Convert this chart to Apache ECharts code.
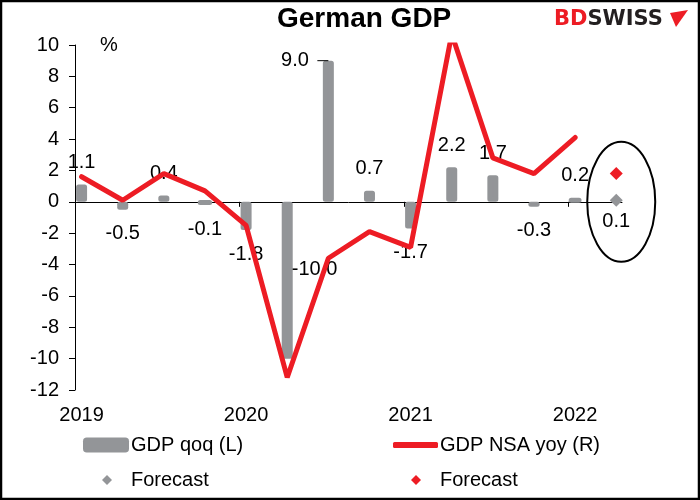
<!DOCTYPE html>
<html lang="en">
<head>
  <meta charset="UTF-8">
  <title>German GDP</title>
  <style>
    html, body { margin: 0; padding: 0; background: #fff; }
    #main { width: 700px; height: 500px; }
  </style>
</head>
<body>
  <div id="main"></div>
  <script src="https://cdn.jsdelivr.net/npm/echarts@6/dist/echarts.min.js"></script>
  <script>
    // quarters on the chart, Q1 2019 .. Q1 2022
    var quarters = ['2019Q1', '2019Q2', '2019Q3', '2019Q4',
                    '2020Q1', '2020Q2', '2020Q3', '2020Q4',
                    '2021Q1', '2021Q2', '2021Q3', '2021Q4',
                    '2022Q1'];
    // GDP qoq, % (left)
    var gdpQoq = [1.1, -0.5, 0.4, -0.1, -1.8, -10.0, 9.0, 0.7, -1.7, 2.2, 1.7, -0.3, 0.2];
    // GDP NSA yoy, % (right)
    var gdpNsaYoy = [1.6, 0.1, 1.8, 0.7, -1.5, -11.2, -3.6, -1.9, -2.9, 10.7, 2.8, 1.8, 4.1];
    // forecast
    var forecastQuarter = '2022Q2';
    var forecastQoq = 0.1;
    var forecastYoy = 1.8;
    var yearTicks = [2019, 2020, 2021, 2022];

    var FONT = 'Liberation Sans, Arial, sans-serif';
    var GREY = '#939598';
    var RED = '#ED1C24';

    // position of a quarter on the (yearly) value axis, point sits just after quarter start
    function quarterPos(q) {
      var year = +q.slice(0, 4);
      var n = +q.slice(5);
      return year + (n - 1) / 4 + 0.04;
    }

    var barData = gdpQoq.map(function (v, i) {
      return {
        value: [quarterPos(quarters[i]), v],
        label: { position: v >= 0 ? 'top' : 'bottom', distance: v >= 0 ? 12 : 14 }
      };
    });
    // labels that were moved by hand in the original
    barData[quarters.indexOf('2020Q3')].label = { position: [-14, 0], align: 'right', verticalAlign: 'middle' };
    barData[quarters.indexOf('2020Q2')].label = { position: ['100%', '43%'], align: 'left', verticalAlign: 'middle', offset: [-1, 0] };

    var lineData = gdpNsaYoy.map(function (v, i) {
      return [quarterPos(quarters[i]), v];
    });

    var xMin = 2019, xMax = 2022.325;

    var myChart = echarts.init(document.getElementById('main'));

    var legendBase = {
      orient: 'vertical',
      padding: 0,
      selectedMode: false,
      textStyle: { fontSize: 20, color: '#000', fontFamily: FONT },
      formatter: function (name) {
        return name.indexOf('Forecast') === 0 ? 'Forecast' : name;
      }
    };
    var legendText = { fontSize: 20, color: '#000', fontFamily: FONT, padding: [0, 0, 0, 14] };

    myChart.setOption({
      animation: false,
      backgroundColor: '#fff',
      title: {
        text: 'German GDP',
        left: 277,
        top: 5,
        padding: 0,
        textStyle: { fontSize: 28, fontWeight: 'bold', color: '#000', fontFamily: FONT }
      },
      legend: [
        Object.assign({}, legendBase, {
          data: ['GDP qoq (L)'], left: 83, top: 435, itemWidth: 46, itemHeight: 15,
          itemStyle: { borderWidth: 0, borderRadius: 3 },
          textStyle: { fontSize: 20, color: '#000', fontFamily: FONT, padding: [0, 0, 0, -3] }
        }),
        Object.assign({}, legendBase, {
          data: [{ name: 'GDP NSA yoy (R)', icon: 'roundRect' }], left: 393, top: 435, itemWidth: 45, itemHeight: 6,
          itemStyle: { color: RED, borderWidth: 0, borderRadius: 3 },
          textStyle: { fontSize: 20, color: '#000', fontFamily: FONT, padding: [0, 0, 0, -3] }
        }),
        Object.assign({}, legendBase, { data: ['Forecast (L)'], left: 102, top: 470, itemWidth: 10, itemHeight: 10, textStyle: legendText }),
        Object.assign({}, legendBase, { data: ['Forecast (R)'], left: 411, top: 470, itemWidth: 10, itemHeight: 10, textStyle: legendText })
      ],
      grid: { left: 75, right: 78, top: 45, bottom: 110, containLabel: false },
      xAxis: [
        {
          // axis line through zero, ticks at the year starts
          type: 'value', min: xMin, max: xMax, interval: 1,
          axisLine: { onZero: true, lineStyle: { color: '#000', width: 1 } },
          axisTick: { show: true, length: 5, lineStyle: { color: '#000' }, customValues: yearTicks },
          axisLabel: { show: false },
          splitLine: { show: false }
        },
        {
          // year labels along the bottom
          type: 'value', min: xMin, max: xMax, interval: 1, position: 'bottom',
          axisLine: { show: false, onZero: false },
          axisTick: { show: false },
          splitLine: { show: false },
          axisLabel: {
            fontSize: 20, color: '#000', fontFamily: FONT, margin: 15,
            customValues: yearTicks.map(function (y) { return quarterPos(y + 'Q1'); }),
            formatter: function (v) { return String(Math.floor(v)); }
          }
        }
      ],
      yAxis: [
        {
          type: 'value', min: -12, max: 10, interval: 2,
          name: '%', nameLocation: 'end', nameGap: 0,
          nameTextStyle: { fontSize: 20, color: '#000', fontFamily: FONT, align: 'left', verticalAlign: 'middle', padding: [0, 0, 0, 25] },
          axisLine: { show: true, lineStyle: { color: '#000', width: 1 } },
          axisTick: { show: true, length: 6, lineStyle: { color: '#000' } },
          axisLabel: { fontSize: 20, color: '#000', fontFamily: FONT, margin: 16 },
          splitLine: { show: false }
        },
        {
          type: 'value', min: -12, max: 10, interval: 2, show: false,
          splitLine: { show: false }
        }
      ],
      series: [
        {
          name: 'GDP qoq (L)',
          type: 'bar',
          xAxisIndex: 0, yAxisIndex: 0,
          barWidth: 11,
          // border drawn inside the bar, round join gives the soft ends
          itemStyle: { color: GREY, borderColor: GREY, borderWidth: 5, borderJoin: 'round' },
          label: {
            show: true, fontSize: 20, color: '#000', fontFamily: FONT,
            formatter: function (p) { return p.value[1].toFixed(1); }
          },
          data: barData,
          z: 2
        },
        {
          name: 'GDP NSA yoy (R)',
          type: 'line',
          xAxisIndex: 0, yAxisIndex: 1,
          symbol: 'none',
          lineStyle: { color: RED, width: 5, cap: 'round' },
          itemStyle: { color: RED },
          data: lineData,
          clip: true,
          z: 3
        },
        {
          name: 'Forecast (L)',
          type: 'scatter',
          xAxisIndex: 0, yAxisIndex: 0,
          symbol: 'diamond',
          symbolSize: 13,
          itemStyle: { color: GREY, opacity: 1 },
          label: {
            show: true, position: 'bottom', distance: 5,
            fontSize: 20, color: '#000', fontFamily: FONT,
            formatter: function (p) { return p.value[1].toFixed(1); }
          },
          data: [[quarterPos(forecastQuarter), forecastQoq]],
          z: 4
        },
        {
          name: 'Forecast (R)',
          type: 'scatter',
          xAxisIndex: 0, yAxisIndex: 1,
          symbol: 'diamond',
          symbolSize: 13,
          itemStyle: { color: RED, opacity: 1 },
          data: [[quarterPos(forecastQuarter), forecastYoy]],
          z: 4
        }
      ]
    });

    // annotations placed from the axes: ellipse round the forecast, leader line for 9.0
    var fc = myChart.convertToPixel({ xAxisIndex: 0, yAxisIndex: 0 }, [quarterPos(forecastQuarter), 0]);
    var big = myChart.convertToPixel({ xAxisIndex: 0, yAxisIndex: 0 }, [quarterPos('2020Q3'), gdpQoq[quarters.indexOf('2020Q3')]]);

    myChart.setOption({
      graphic: [
        {
          type: 'ellipse',
          shape: { cx: fc[0] + 5, cy: fc[1], rx: 34, ry: 60 },
          style: { fill: 'none', stroke: '#000', lineWidth: 2 },
          z: 10
        },
        {
          type: 'line',
          shape: { x1: big[0] - 11, y1: big[1], x2: big[0], y2: big[1] },
          style: { stroke: '#000', lineWidth: 1 },
          z: 10
        },
        {
          // logo
          type: 'text',
          left: 554, top: 9,
          style: {
            text: '{r|BD}{k|SWISS}',
            rich: {
              r: { fill: RED, fontSize: 21, fontWeight: 'bold', fontFamily: 'DejaVu Sans' },
              k: { fill: '#231F20', fontSize: 21, fontWeight: 'bold', fontFamily: 'DejaVu Sans' }
            }
          },
          z: 10
        },
        {
          type: 'polygon',
          shape: { points: [[670, 13], [688, 10], [676, 27]] },
          style: { fill: RED },
          z: 10
        },
        {
          // frame
          type: 'rect',
          shape: { x: 1, y: 1, width: 698, height: 498 },
          style: { fill: 'none', stroke: '#000', lineWidth: 2.5 },
          z: 20
        }
      ]
    });
  </script>
</body>
</html>
